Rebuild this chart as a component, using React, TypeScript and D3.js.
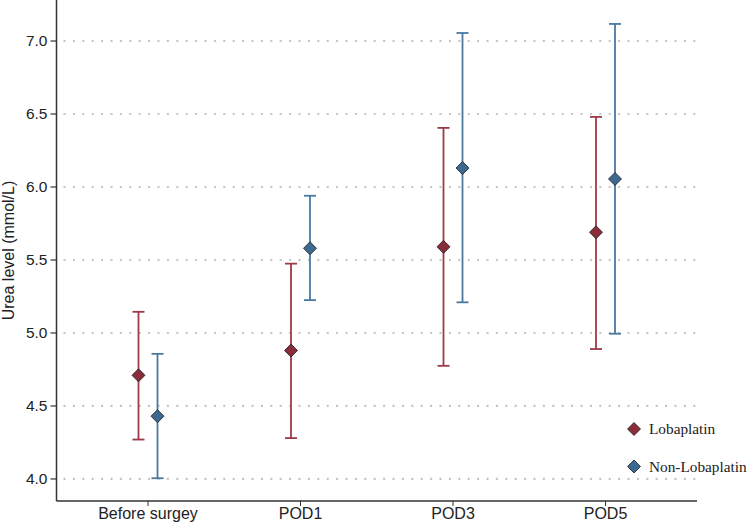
import React from "react";
import * as d3 from "d3";

const categories = ["Before surgey", "POD1", "POD3", "POD5"];
const seriesNames = ["Lobaplatin", "Non-Lobaplatin"];
const lobaMean = [4.71, 4.88, 5.59, 5.69];
const lobaLow = [4.27, 4.28, 4.775, 4.89];
const lobaHigh = [5.145, 5.475, 6.405, 6.48];
const nonMean = [4.43, 5.58, 6.13, 6.055];
const nonLow = [4.005, 5.225, 5.21, 4.995];
const nonHigh = [4.857, 5.94, 7.055, 7.117];
const yTicks = [4.0, 4.5, 5.0, 5.5, 6.0, 6.5, 7.0];

const W = 750;
const H = 524;
const left = 56.5;
const right = 697;
const top = 0;
const bottom = 501;

const lineColors = ["#9c3b48", "#4a79a0"];
const fillColors = ["#8a2d3a", "#3d6990"];

export default function App() {
  const x = d3.scalePoint<string>().domain(categories).range([left, right]).padding(0.6);
  const y = d3.scaleLinear().domain([3.849, 7.281]).range([bottom, top]);
  const series = [
    { name: seriesNames[0], mean: lobaMean, low: lobaLow, high: lobaHigh, dx: -9.5 },
    { name: seriesNames[1], mean: nonMean, low: nonLow, high: nonHigh, dx: 9.5 },
  ];
  const dr = 6.5;
  const diamond = (cx: number, cy: number) =>
    `M${cx},${cy - dr}L${cx + dr},${cy}L${cx},${cy + dr}L${cx - dr},${cy}Z`;
  const capW = 6;

  return (
    <svg width={W} height={H} style={{ position: "absolute", left: 0, top: 0, background: "#fff" }}>
      {/* gridlines */}
      {yTicks.map((t) => (
        <line
          key={"g" + t}
          x1={left + 7}
          x2={right}
          y1={y(t)}
          y2={y(t)}
          stroke="#c4c4c4"
          strokeWidth={2.2}
          strokeDasharray="2,7.4"
        />
      ))}
      {/* y axis */}
      <line x1={left} x2={left} y1={top} y2={bottom} stroke="#333" strokeWidth={1.5} />
      {yTicks.map((t) => (
        <g key={"yt" + t}>
          <line x1={left - 6} x2={left} y1={y(t)} y2={y(t)} stroke="#333" strokeWidth={1.2} />
          <text
            x={left - 9}
            y={y(t)}
            dy="0.35em"
            textAnchor="end"
            fontFamily="Liberation Sans, Arial, sans-serif"
            fontSize={15.5}
            fill="#222"
          >
            {t.toFixed(1)}
          </text>
        </g>
      ))}
      <text
        transform={`translate(14,${(top + bottom) / 2}) rotate(-90)`}
        textAnchor="middle"
        fontFamily="Liberation Sans, Arial, sans-serif"
        fontSize={16}
        fill="#222"
      >
        Urea level (mmol/L)
      </text>
      {/* x axis */}
      <line x1={left} x2={right} y1={bottom} y2={bottom} stroke="#333" strokeWidth={1.5} />
      {categories.map((c) => (
        <g key={"xt" + c}>
          <line x1={x(c)!} x2={x(c)!} y1={bottom} y2={bottom + 5} stroke="#333" strokeWidth={1} />
          <text
            x={x(c)!}
            y={bottom + 18}
            textAnchor="middle"
            fontFamily="Liberation Sans, Arial, sans-serif"
            fontSize={16}
            fill="#222"
          >
            {c}
          </text>
        </g>
      ))}
      {/* error bars + points */}
      {series.map((s, si) => (
        <g key={s.name}>
          {categories.map((c, i) => {
            const cx = x(c)! + s.dx;
            return (
              <g key={c}>
                <line x1={cx} x2={cx} y1={y(s.low[i])} y2={y(s.high[i])} stroke={lineColors[si]} strokeWidth={1.8} />
                <line x1={cx - capW} x2={cx + capW} y1={y(s.low[i])} y2={y(s.low[i])} stroke={lineColors[si]} strokeWidth={1.8} />
                <line x1={cx - capW} x2={cx + capW} y1={y(s.high[i])} y2={y(s.high[i])} stroke={lineColors[si]} strokeWidth={1.8} />
                <path d={diamond(cx, y(s.mean[i]))} fill={fillColors[si]} stroke="#1a1a1a" strokeWidth={0.8} />
              </g>
            );
          })}
        </g>
      ))}
      {/* legend */}
      {series.map((s, si) => {
        const ly = 429 + si * 37.5;
        return (
          <g key={"lg" + s.name}>
            <path d={diamond(634, ly)} fill={fillColors[si]} stroke="#1a1a1a" strokeWidth={0.8} />
            <text
              x={649}
              y={ly}
              dy="0.35em"
              fontFamily="Liberation Serif, Times New Roman, serif"
              fontSize={15.3}
              fill="#222"
            >
              {s.name}
            </text>
          </g>
        );
      })}
    </svg>
  );
}
